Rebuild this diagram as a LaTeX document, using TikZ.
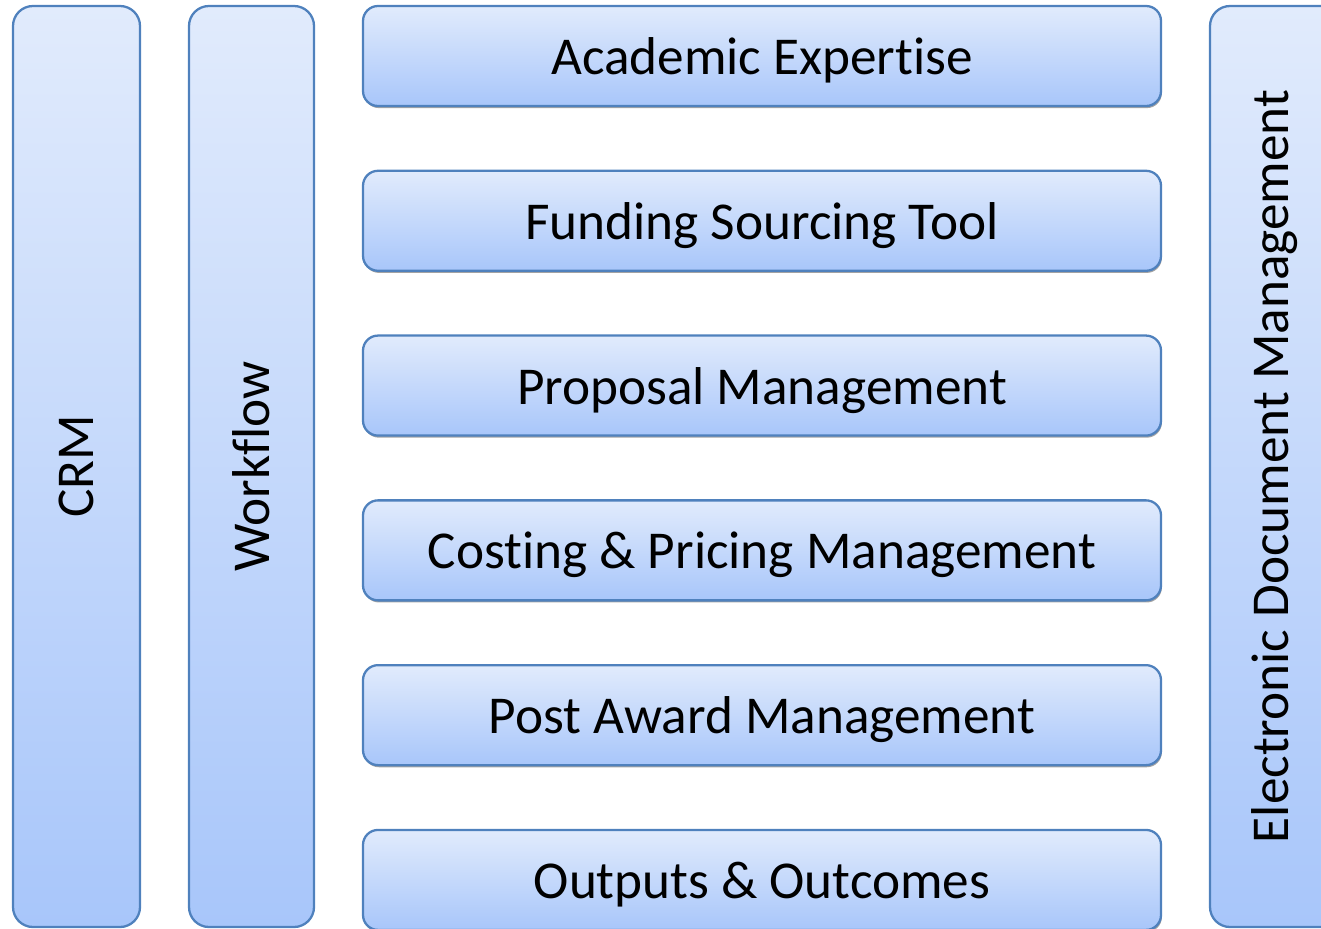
\documentclass[tikz,border=0pt]{standalone}
\usepackage{fontspec}
\setmainfont{Carlito}[Ligatures=NoCommon]
\usetikzlibrary{positioning,shadows}
\definecolor{boxtop}{HTML}{E1EBFC}
\definecolor{boxbot}{HTML}{A8C6FA}
\definecolor{edge}{HTML}{4F81BD}
\tikzset{
  pillar/.style={draw=edge, line width=1.3pt, rounded corners=0.4cm,
    top color=boxtop, bottom color=boxbot, minimum height=18.42cm,
    inner sep=0pt},
  upright/.style={rotate=90, font=\fontsize{30.3}{36}\selectfont},
  module/.style={draw=edge, line width=1.3pt, rounded corners=0.3cm,
    top color=boxtop, bottom color=boxbot, minimum width=15.96cm,
    minimum height=2cm, inner sep=0pt, text depth=0pt,
    font=\fontsize{30.3}{36}\selectfont,
    drop shadow={shadow xshift=0.5pt, shadow yshift=-1.2pt, fill=black!45, opacity=0.8}},
}

\begin{document}
\begin{tikzpicture}[node distance=1.25cm]
  \useasboundingbox (0,0) rectangle (26.42,-18.56);
  \clip (0,0) rectangle (26.42,-18.56);
  % side pillars
  \node[pillar, minimum width=2.54cm] (crm) at (1.53,-9.33) {};
  \node[upright] (crmtxt) at (crm.center) {CRM};
  \node[pillar, minimum width=2.5cm] (flow) at (5.03,-9.33) {};
  \node[upright] (flowtxt) at (flow.center) {Workflow};
  \node[pillar, minimum width=2.6cm] (edm) at (25.5,-9.33) {};
  \node[upright] (edmtxt) at (25.5,-9.33) {Electronic Document Management};
  % stacked modules
  \node[module] (acad) at (15.24,-1.12) {Academic Expertise};
  \node[module, below=of acad] (fund) {Funding Sourcing Tool};
  \node[module, below=of fund] (prop) {Proposal Management};
  \node[module, below=of prop] (cost) {Costing \& Pricing Management};
  \node[module, below=of cost] (post) {Post Award Management};
  \node[module, below=of post] (outp) {Outputs \& Outcomes};
\end{tikzpicture}
\end{document}
